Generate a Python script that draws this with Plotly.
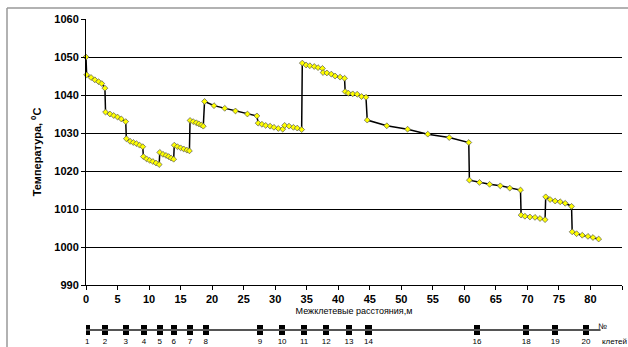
import plotly.graph_objects as go

# Temperature profile along the mill (distance m, temperature °C)
distance = [0.0, 0.1, 0.8, 1.4, 2.0, 2.5, 3.0,
            3.1, 3.8, 4.4, 5.0, 5.6, 6.3,
            6.4, 7.0, 7.5, 8.0, 8.5, 9.0,
            9.1, 9.6, 10.1, 10.6, 11.1, 11.6,
            11.7, 12.2, 12.7, 13.1, 13.5, 13.9,
            14.0, 14.5, 15.0, 15.5, 16.0, 16.4,
            16.5, 17.0, 17.5, 17.9, 18.3, 18.6,
            18.8, 20.3, 22.0, 23.7, 25.6, 27.1,
            27.3, 27.9, 28.5, 29.2, 29.8, 30.5, 31.2, 31.5, 32.2, 32.9, 33.5, 34.2,
            34.3, 34.9, 35.5, 36.2, 36.8, 37.5, 37.6, 38.2, 38.9, 39.5, 40.3, 41.0,
            41.1, 41.6, 42.3, 43.0, 43.7, 44.4,
            44.6, 47.7, 51.0, 54.2, 57.6, 60.7,
            60.8, 62.4, 64.0, 65.7, 67.2, 68.9,
            69.0, 69.6, 70.4, 71.2, 72.0, 72.8,
            72.9, 73.6, 74.4, 75.2, 76.0, 77.0,
            77.1, 77.8, 78.7, 79.6, 80.4, 81.3]
temperature = [1050.0, 1045.3, 1044.6, 1044.0, 1043.5, 1043.0, 1041.8,
               1035.5, 1035.0, 1034.6, 1034.2, 1033.7, 1033.0,
               1028.5, 1027.8, 1027.5, 1027.2, 1026.8, 1026.4,
               1023.8, 1023.2, 1022.8, 1022.5, 1022.1, 1021.7,
               1024.9, 1024.4, 1024.1, 1023.8, 1023.4, 1023.1,
               1026.8, 1026.4, 1026.1, 1025.8, 1025.5, 1025.3,
               1033.3, 1033.0, 1032.7, 1032.4, 1032.1, 1031.8,
               1038.3, 1037.2, 1036.5, 1035.8, 1035.0, 1034.5,
               1032.6, 1032.3, 1032.0, 1031.8, 1031.5, 1031.2, 1031.0, 1032.0, 1031.8, 1031.5, 1031.3, 1030.9,
               1048.4, 1047.9, 1047.7, 1047.5, 1047.2, 1047.0, 1045.9, 1045.8, 1045.5, 1045.0, 1044.7, 1044.4,
               1040.9, 1040.5, 1040.3, 1040.2, 1039.6, 1039.4,
               1033.4, 1031.9, 1031.0, 1029.7, 1028.8, 1027.5,
               1017.6, 1017.0, 1016.5, 1016.1, 1015.5, 1015.0,
               1008.4, 1008.1, 1007.9, 1007.8, 1007.5, 1007.2,
               1013.2, 1012.5, 1012.1, 1011.9, 1011.5, 1010.7,
               1004.0, 1003.5, 1003.1, 1002.8, 1002.5, 1002.1]

# Stand positions along the mill
stand_pos = [0.2, 3.0, 6.3, 9.2, 11.7, 13.9, 16.5, 19.0, 27.6, 31.1, 34.6,
             38.1, 41.7, 44.8, 62.0, 69.8, 74.4, 79.3]
stand_labels = ["1", "2", "3", "4", "5", "6", "7", "8", "9", "10", "11",
                "12", "13", "14", "16", "18", "19", "20"]

x_ticks = list(range(0, 90, 5))
y_ticks = list(range(990, 1070, 10))

fig = go.Figure()

fig.add_trace(go.Scatter(
    x=distance, y=temperature, mode="lines+markers",
    line=dict(color="black", width=1.5),
    marker=dict(symbol="diamond", size=4.5, color="#FFFF00",
                line=dict(color="#555555", width=0.7)),
    cliponaxis=False, showlegend=False, xaxis="x", yaxis="y"))

# stand strip
fig.add_trace(go.Scatter(
    x=[-0.7, 81.6], y=[0.25, 0.25], mode="lines",
    line=dict(color="#555555", width=2), showlegend=False,
    xaxis="x2", yaxis="y2", cliponaxis=False))
fig.add_trace(go.Bar(
    x=stand_pos, y=[0.166] * len(stand_pos), base=[0.167] * len(stand_pos),
    width=1.0, marker=dict(color="black", line=dict(width=0)),
    showlegend=False, xaxis="x2", yaxis="y2"))
fig.add_trace(go.Scatter(
    x=stand_pos, y=[0.045] * len(stand_pos), mode="text",
    text=stand_labels, textfont=dict(family="Liberation Sans", size=8, color="black"),
    showlegend=False, xaxis="x2", yaxis="y2", cliponaxis=False))

tickfont = dict(family="Liberation Sans Narrow, Liberation Sans, Arial", size=11,
                color="black", weight="bold")

fig.update_layout(
    width=628, height=347,
    margin=dict(l=86, r=6, t=19, b=2, autoexpand=False),
    paper_bgcolor="white", plot_bgcolor="white",
    xaxis=dict(range=[0, 85], tickvals=x_ticks, domain=[0, 1], anchor="y",
               automargin=False,
               showline=True, linecolor="black", linewidth=1,
               ticks="outside", ticklen=4, tickcolor="black",
               showgrid=False, zeroline=False, tickfont=tickfont,
               title=dict(text="Межклетевые расстояния,м",
                          font=dict(family="Liberation Sans", size=9, color="black"),
                          standoff=3)),
    yaxis=dict(range=[990, 1060], tickvals=y_ticks, domain=[0.184, 1], anchor="x",
               automargin=False,
               showline=True, linecolor="black", linewidth=1,
               ticks="outside", ticklen=4, tickcolor="black",
               showgrid=True, gridcolor="black", gridwidth=1, zeroline=False,
               tickfont=tickfont,
               title=dict(text="Температура, <sup>0</sup>C",
                          font=dict(family="Liberation Sans", size=11, color="black",
                                    weight="bold"),
                          standoff=10)),
    xaxis2=dict(range=[0, 85], domain=[0, 1], anchor="y2", visible=False, automargin=False),
    yaxis2=dict(range=[0, 1], domain=[0, 0.184], anchor="x2", visible=False, automargin=False),
    bargap=0,
)

fig.add_annotation(text="№", xref="paper", yref="paper",
                   x=(602 - 86) / 536, y=(345 - 326) / 326, showarrow=False,
                   xanchor="center", yanchor="middle",
                   font=dict(family="Liberation Sans", size=8, color="black"))
fig.add_annotation(text="клетей", xref="paper", yref="paper",
                   x=(600 - 86) / 536, y=(345 - 341) / 326, showarrow=False,
                   xanchor="left", yanchor="middle",
                   font=dict(family="Liberation Sans", size=8, color="black"))

# outer frame (left and top edges)
fig.add_shape(type="line", xref="paper", yref="paper",
              x0=(7 - 86) / 536, x1=(7 - 86) / 536, y0=-0.01, y1=(345 - 8) / 326,
              line=dict(color="#999999", width=1.5))
fig.add_shape(type="line", xref="paper", yref="paper",
              x0=(7 - 86) / 536, x1=1.02, y0=(345 - 8) / 326, y1=(345 - 8) / 326,
              line=dict(color="#999999", width=1.5))

fig.write_html("out.html", config={"displayModeBar": False},
               post_script="document.body.style.margin='0';document.body.style.overflow='hidden';")
